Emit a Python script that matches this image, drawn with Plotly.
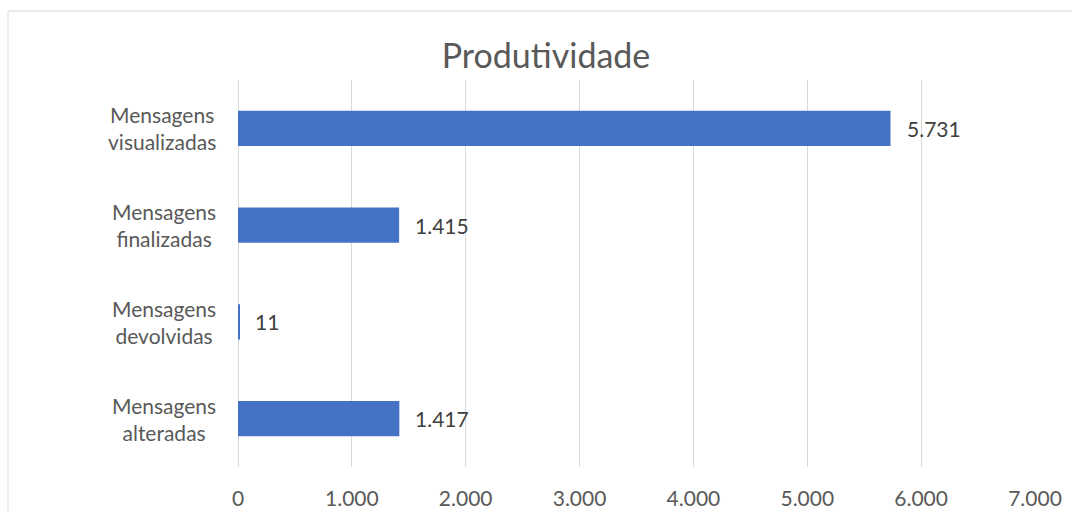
import plotly.graph_objects as go

categories = ["Mensagens<br>alteradas", "Mensagens<br>devolvidas", "Mensagens<br>finalizadas", "Mensagens<br>visualizadas"]
values = [1417, 11, 1415, 5731]
tick_vals = [0, 1000, 2000, 3000, 4000, 5000, 6000, 7000]
title_text = "Produtividade"

FONT = "Lato"
GRAY = "#595959"
fig = go.Figure()
fig.add_trace(go.Bar(
    y=categories, x=values, orientation="h",
    marker=dict(color="#4472C4", line=dict(width=0)),
    hoverinfo="x+y",
))
for c, v in zip(categories, values):
    fig.add_annotation(x=v, y=c, text=f"{v:,}".replace(",", "."), showarrow=False,
                       xanchor="left", xshift=14, font=dict(family=FONT, size=21, color="#404040"))
    # category labels, centered lines
    fig.add_annotation(x=-0.025, xref="paper", y=c, yref="y", text=c, showarrow=False,
                       xanchor="right", align="center",
                       font=dict(family=FONT, size=21, color=GRAY))

fig.update_layout(
    width=1072, height=512,
    margin=dict(l=238, r=37, t=80, b=45),
    paper_bgcolor="white", plot_bgcolor="white",
    separators=",.",
    bargap=0.638,
    showlegend=False,
    title=dict(text=title_text, x=546/1072, xanchor="center", xref="container",
               y=1 - 56/512, yanchor="middle", yref="container",
               font=dict(family=FONT, size=34, color=GRAY)),
    font=dict(family=FONT, size=21, color=GRAY),
)
fig.update_xaxes(range=[0, 7000], tickvals=tick_vals, tickformat=",d", automargin=False,
                 showgrid=True, gridcolor="#D9D9D9", gridwidth=1,
                 zeroline=True, zerolinecolor="#D9D9D9", zerolinewidth=1,
                 showline=False, ticks="outside", ticklen=13, tickcolor="rgba(0,0,0,0)",
                 tickfont=dict(family=FONT, size=21, color=GRAY), fixedrange=True)
fig.update_yaxes(showgrid=False, zeroline=False, showline=False, showticklabels=False,
                 automargin=False, fixedrange=True)

# chart area border
fig.add_shape(type="rect", xref="paper", yref="paper",
              x0=(8 - 238) / 797, x1=1.2, y0=-0.3, y1=1 + (80 - 11) / 387,
              line=dict(color="#D9D9D9", width=1), fillcolor="rgba(0,0,0,0)", layer="below")

fig.write_html("out.html", config={"displayModeBar": False},
               post_script="document.body.style.margin='0';document.body.style.overflow='hidden';")
